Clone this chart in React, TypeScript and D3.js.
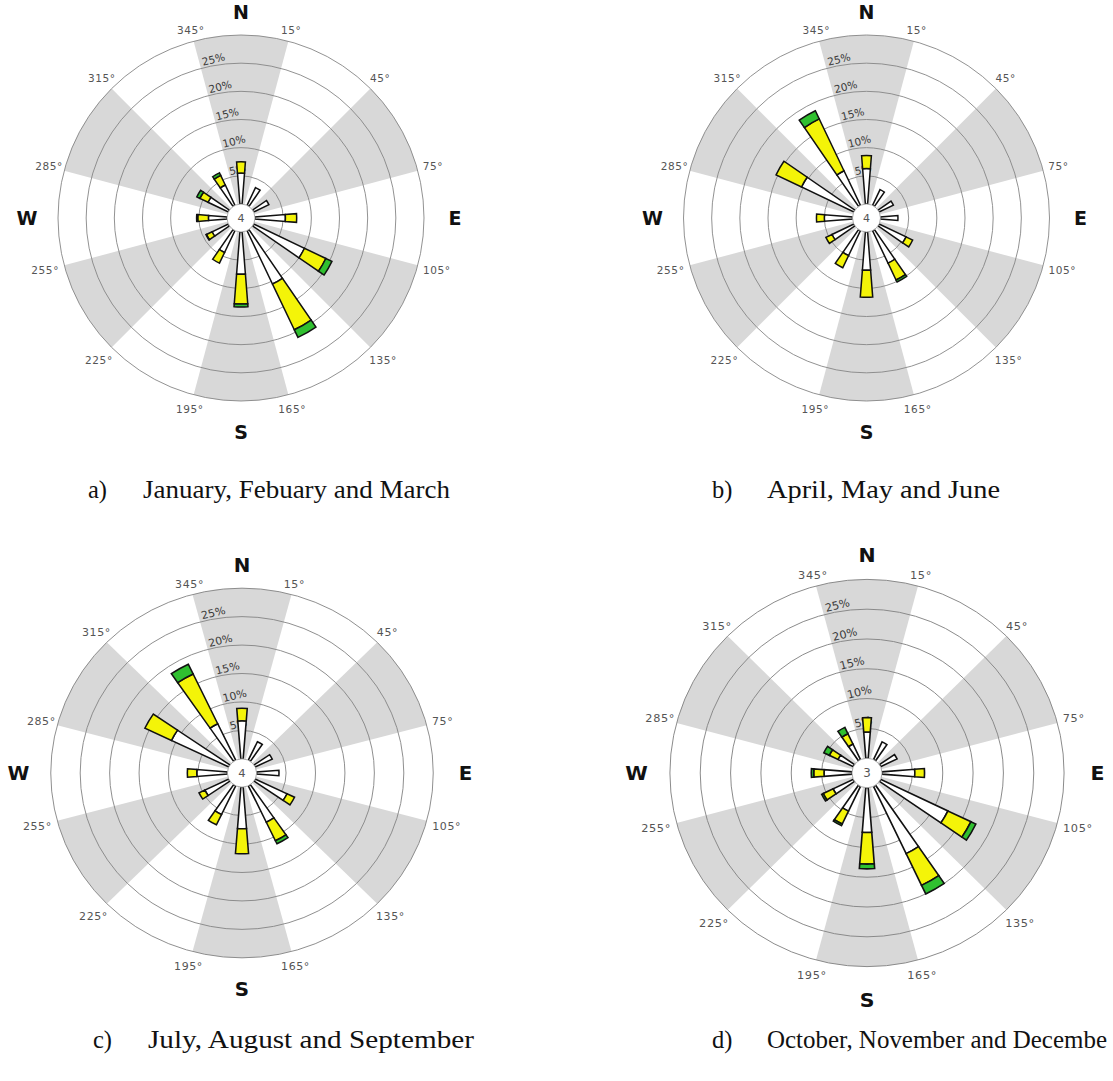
import React from 'react';
import * as d3 from 'd3';

// ---------- data ----------
const directions = [0, 30, 60, 90, 120, 150, 180, 210, 240, 270, 300, 330];
const ringTicks = [5, 10, 15, 20, 25, 30];
const ringLabels = ['5%', '10%', '15%', '20%', '25%'];
const boundaryAngles = [15, 45, 75, 105, 135, 165, 195, 225, 255, 285, 315, 345];
const shadedCenters = [0, 60, 120, 180, 240, 300];
const compassLetters = ['N', 'E', 'S', 'W'];
const compassAngles = [0, 90, 180, 270];

// Panel a: January, Febuary and March (frequency % per speed class)
const whiteA = [5.5, 3.5, 3.0, 5.4, 10.0, 10.5, 7.5, 4.3, 3.2, 3.3, 4.0, 4.0];
const yellowA = [2.0, 0, 0, 2.0, 4.2, 9.0, 5.3, 2.1, 1.1, 1.9, 1.6, 1.9];
const greenA = [0, 0, 0, 0, 1.2, 1.5, 0.5, 0, 0.1, 0.2, 0.6, 0.5];

// Panel b: April, May and June
const whiteB = [6.3, 3.1, 2.8, 3.1, 5.3, 6.4, 6.8, 4.9, 4.3, 5.0, 10.3, 6.8];
const yellowB = [2.3, 0, 0, 0, 1.3, 3.3, 4.8, 2.4, 1.2, 1.4, 5.0, 10.2];
const greenB = [0, 0, 0, 0, 0, 0.4, 0, 0, 0, 0, 0, 1.6];

// Panel c: July, August and September
const whiteC = [6.7, 3.6, 3.2, 3.8, 6.0, 7.1, 7.3, 5.6, 4.5, 5.2, 10.8, 7.1];
const yellowC = [2.2, 0, 0, 0, 1.4, 3.6, 4.4, 2.0, 1.1, 1.6, 5.0, 9.7];
const greenC = [0, 0, 0, 0, 0, 0.6, 0, 0, 0, 0, 0, 1.9];

// Panel d: October, November and December
const whiteD = [4.4, 3.3, 3.0, 5.4, 12.3, 12.5, 7.5, 4.6, 3.7, 4.6, 2.8, 2.9];
const yellowD = [2.4, 0, 0, 1.6, 4.2, 5.9, 5.3, 2.4, 1.8, 1.7, 1.6, 1.9];
const greenD = [0, 0, 0, 0, 0.9, 1.6, 0.8, 0.3, 0.3, 0.4, 1.0, 1.2];

const calmValues = ['4', '4', '4', '3'];
const captionLetters = ['a)', 'b)', 'c)', 'd)'];
const captionTexts = [
  'January, Febuary and March',
  'April, May and June',
  'July, August and September',
  'October, November and Decembe',
];

// ---------- layout ----------
const W = 1113;
const H = 1081;
const R0 = 14;
const R = 183;
const MAXV = 30;
const HALF = 4.5; // petal half width (deg)

const panels = [
  { cx: 241, cy: 218, sx: 1.0, sy: 1.0, capX: 88, capY: 498, capW: 307, white: whiteA, yellow: yellowA, green: greenA },
  { cx: 866.5, cy: 218, sx: 1.0, sy: 1.0, capX: 712, capY: 498, capW: 233, white: whiteB, yellow: yellowB, green: greenB },
  { cx: 242, cy: 773, sx: 1.045, sy: 1.01, capX: 93, capY: 1048, capW: 326, white: whiteC, yellow: yellowC, green: greenC },
  { cx: 867, cy: 773, sx: 1.077, sy: 1.058, capX: 712, capY: 1048, capW: 340, white: whiteD, yellow: yellowD, green: greenD },
];

const rScale = d3.scaleLinear().domain([0, MAXV]).range([R0, R]);
const rad = (d: number) => (d * Math.PI) / 180;
const arcGen = d3.arc<any>();

const COLORS = ['#ffffff', '#f4f408', '#30c030'];
const GRID = '#868686';
const SHADE = '#d8d8d8';

function Rose({ p, idx }: { p: any; idx: number }) {
  const sectors = shadedCenters.map((a) =>
    arcGen({ innerRadius: 0, outerRadius: R, startAngle: rad(a - 15), endAngle: rad(a + 15) })
  );
  const petals: any[] = [];
  directions.forEach((dir, i) => {
    const vals = [p.white[i], p.yellow[i], p.green[i]];
    let acc = 0;
    vals.forEach((v, k) => {
      if (v <= 0) return;
      const d = arcGen({
        innerRadius: rScale(acc),
        outerRadius: rScale(acc + v),
        startAngle: rad(dir - HALF),
        endAngle: rad(dir + HALF),
      });
      petals.push(
        <path key={`${i}-${k}`} d={d as string} fill={COLORS[k]} stroke="#111" strokeWidth={1.5} strokeLinejoin="miter" />
      );
      acc += v;
    });
  });
  const labA = -14;
  return (
    <g transform={`translate(${p.cx},${p.cy}) scale(${p.sx},${p.sy})`}>
      <circle r={R} fill="#fff" />
      {sectors.map((d, i) => (
        <path key={i} d={d as string} fill={SHADE} />
      ))}
      {ringTicks.map((v) => (
        <circle key={v} r={rScale(v)} fill="none" stroke={GRID} strokeWidth={0.9} />
      ))}
      {ringLabels.map((t, i) => {
        const rr = rScale(ringTicks[i]) + 2;
        const x = rr * Math.sin(rad(labA));
        const y = -rr * Math.cos(rad(labA));
        return (
          <text key={t} transform={`translate(${x},${y}) rotate(${labA})`} fontFamily="DejaVu Sans, sans-serif" fontSize={10.5} fill="#3a3a3a" textAnchor="start">
            {t}
          </text>
        );
      })}
      {petals}
      <circle r={R0} fill="#fff" stroke="#999" strokeWidth={0.8} />
      <text x={0} y={0} dy="0.36em" textAnchor="middle" fontFamily="DejaVu Sans, sans-serif" fontSize={11} fill="#555">
        {calmValues[idx]}
      </text>
      {boundaryAngles.map((a) => {
        const s = Math.sin(rad(a));
        const c = Math.cos(rad(a));
        const rr = R + 9 + 7 * Math.abs(s) + (c < 0 ? 4 : 0);
        return (
          <text key={a} x={rr * s} y={-rr * c} dy="0.35em" textAnchor="middle" fontFamily="DejaVu Sans, sans-serif" fontSize={10.5} fill="#555" letterSpacing={0.6}>
            {`${a}°`}
          </text>
        );
      })}
      {compassLetters.map((t, i) => {
        const a = compassAngles[i];
        const dist = a === 0 ? 206 : 214;
        return (
          <text key={t} x={dist * Math.sin(rad(a))} y={-dist * Math.cos(rad(a))} dy="0.36em" textAnchor="middle" fontFamily="DejaVu Sans, sans-serif" fontWeight="bold" fontSize={19} fill="#111">
            {t}
          </text>
        );
      })}
    </g>
  );
}

export default function App() {
  return (
    <svg width={W} height={H} viewBox={`0 0 ${W} ${H}`} style={{ position: 'absolute', left: 0, top: 0, background: '#fff' }}>
      <rect width={W} height={H} fill="#fff" />
      {panels.map((p, i) => (
        <Rose key={i} p={p} idx={i} />
      ))}
      {panels.map((p, i) => (
        <g key={`cap${i}`} fontFamily="Liberation Serif, serif" fontSize={24.5} fill="#111">
          <text x={p.capX} y={p.capY}>{captionLetters[i]}</text>
          <text x={p.capX + 55} y={p.capY} textLength={p.capW} lengthAdjust="spacingAndGlyphs">
            {captionTexts[i]}
          </text>
        </g>
      ))}
    </svg>
  );
}
